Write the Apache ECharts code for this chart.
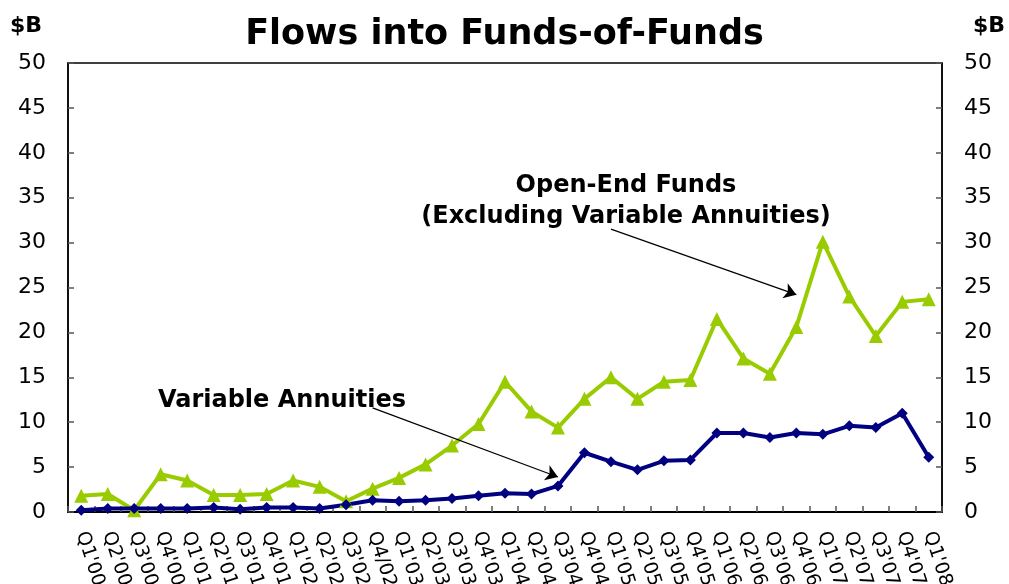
<!DOCTYPE html>
<html><head><meta charset="utf-8">
<script src="https://cdn.jsdelivr.net/npm/echarts@6/dist/echarts.min.js"></script>
<style>html,body{margin:0;padding:0;background:#fff}#c{width:1009px;height:584px}</style>
</head><body><div id="c"></div>
<script>
const categories = ["Q1'00","Q2'00","Q3'00","Q4'00","Q1'01","Q2'01","Q3'01","Q4'01","Q1'02","Q2'02","Q3'02","Q4/02","Q1'03","Q2'03","Q3'03","Q4'03","Q1'04","Q2'04","Q3'04","Q4'04","Q1'05","Q2'05","Q3'05","Q4'05","Q1'06","Q2'06","Q3'06","Q4'06","Q1'07","Q2'07","Q3'07","Q4'07","Q1'08"];
const openEndFunds = [1.8,2.0,0.2,4.2,3.5,1.9,1.9,2.0,3.5,2.8,1.2,2.6,3.8,5.3,7.4,9.8,14.5,11.2,9.4,12.6,15.0,12.6,14.5,14.7,21.5,17.1,15.4,20.6,30.1,24.0,19.6,23.4,23.7];
const variableAnnuities = [0.2,0.4,0.4,0.4,0.4,0.5,0.3,0.5,0.5,0.4,0.8,1.3,1.2,1.3,1.5,1.8,2.1,2.0,2.9,6.6,5.6,4.7,5.7,5.8,8.8,8.8,8.3,8.8,8.65,9.6,9.4,11.0,6.1];
const yTicks = [0,5,10,15,20,25,30,35,40,45,50];

const chart = echarts.init(document.getElementById('c'));
const font = '"DejaVu Sans", Verdana, sans-serif';
const yAxisBase = {
  type:'value', min:0, max:50, interval:5,
  axisLine:{show:true, lineStyle:{color:'#000', width:1.5}},
  axisTick:{show:true, inside:true, length:6, lineStyle:{color:'#555', width:1.5}},
  splitLine:{show:false},
  axisLabel:{fontFamily:font, fontSize:22, color:'#000', margin:22},
};
chart.setOption({
  animation:false,
  title:{text:'Flows into Funds-of-Funds', left:'center', top:12,
    textStyle:{fontFamily:font, fontSize:35, fontWeight:'bold', color:'#000'}},
  grid:{left:68, right:67, top:63, bottom:72, containLabel:false, outerBoundsMode:'none',
    show:true, borderColor:'#000', borderWidth:1.5},
  xAxis:{type:'category', data:categories, boundaryGap:true,
    axisLine:{lineStyle:{color:'#000', width:2}},
    axisTick:{show:true, inside:true, length:6, alignWithLabel:false, lineStyle:{color:'#555', width:1.5}},
    axisLabel:{interval:0, rotate:-72, fontFamily:font, fontSize:19, color:'#000', margin:20}},
  yAxis:[Object.assign({position:'left'}, yAxisBase),
         Object.assign({position:'right'}, yAxisBase)],
  graphic:[
    {type:'text', left:10, top:15, style:{text:'$B', font:'bold 22px '+font, fill:'#000'}},
    {type:'text', right:4, top:15, style:{text:'$B', font:'bold 22px '+font, fill:'#000'}},
    {type:'text', x:626, y:186, style:{text:'Open-End Funds', font:'bold 24px '+font, fill:'#000', textAlign:'center', textVerticalAlign:'middle'}},
    {type:'text', x:626, y:217, style:{text:'(Excluding Variable Annuities)', font:'bold 24px '+font, fill:'#000', textAlign:'center', textVerticalAlign:'middle'}},
    {type:'text', x:282, y:401, style:{text:'Variable Annuities', font:'bold 24px '+font, fill:'#000', textAlign:'center', textVerticalAlign:'middle'}}
  ],
  series:[
    {name:'Open-End Funds', type:'line', data:openEndFunds, yAxisIndex:0,
     lineStyle:{color:'#99CC00', width:4}, itemStyle:{color:'#99CC00'},
     symbol:'triangle', symbolSize:14,
     markLine:{silent:true, symbol:['none','arrow'], symbolSize:12, label:{show:false},
       lineStyle:{color:'#000', width:1.2, type:'solid'},
       data:[[{coord:[20.0,31.5]},{coord:[27.15,24.2]}]]}},
    {name:'Variable Annuities', type:'line', data:variableAnnuities, yAxisIndex:0,
     lineStyle:{color:'#000080', width:4}, itemStyle:{color:'#000080'},
     symbol:'diamond', symbolSize:11,
     markLine:{silent:true, symbol:['none','arrow'], symbolSize:12, label:{show:false},
       lineStyle:{color:'#000', width:1.2, type:'solid'},
       data:[[{coord:[10.65,11.6]},{coord:[18.35,3.9]}]]}}
  ]
});
</script></body></html>
